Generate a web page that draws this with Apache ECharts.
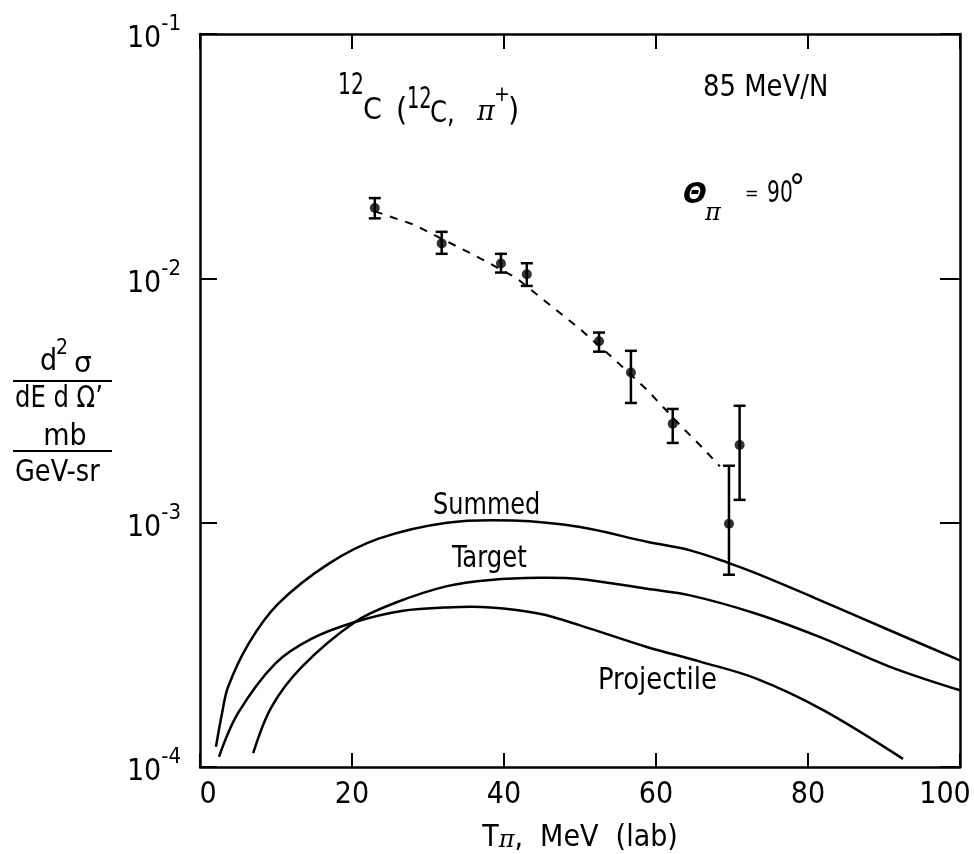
<!DOCTYPE html>
<html><head><meta charset="utf-8">
<script src="https://cdn.jsdelivr.net/npm/echarts@6/dist/echarts.min.js"></script>
<style>html,body{margin:0;padding:0;background:#fff}#c{width:974px;height:854px}</style>
</head><body><div id="c"></div>
<script>
// ---------- DATA ----------
const xTicks = [0, 20, 40, 60, 80, 100];
const yExponents = [-4, -3, -2, -1];

// measured points with error bars
const ptX  = [23.0, 31.8, 39.6, 43.0, 52.5, 56.7, 62.2, 69.6, 71.0];
const ptY  = [0.0194, 0.0139, 0.0115, 0.0104, 0.00553, 0.00412, 0.00254, 0.00099, 0.00208];
const ptLo = [0.0176, 0.0126, 0.01056, 0.00931, 0.00501, 0.00309, 0.00212, 0.000612, 0.00124];
const ptHi = [0.0213, 0.0155, 0.0126, 0.01153, 0.0060, 0.00505, 0.00292, 0.00171, 0.00301];

// dashed guide line
const dashX = [23.0, 28.1, 36.4, 41.7, 44.7, 50.0, 54.4, 58.8, 63.2, 66.3, 68.4];
const dashY = [0.0188, 0.0166, 0.0123, 0.0100, 0.0084, 0.0062, 0.0047, 0.0035, 0.0025, 0.0020, 0.0017];

// calculated curves
const summedX = [2.1, 2.9, 3.7, 6.4, 10.3, 16.9, 23.5, 32.5, 41.2, 50.0, 58.8, 64.5, 69.5, 73.2, 80.7, 90.8, 100];
const summedY = [1.21e-4, 1.66e-4, 2.13e-4, 3.2e-4, 4.66e-4, 6.78e-4, 8.6e-4, 1.0e-3, 1.02e-3, 9.6e-4, 8.35e-4, 7.7e-4, 6.85e-4, 6.2e-4, 4.95e-4, 3.62e-4, 2.73e-4];

const targetX = [7.0, 9.4, 13.4, 20.4, 25.7, 32.5, 38.2, 44.7, 50.0, 58.8, 64.5, 73.2, 81.6, 90.8, 100];
const targetY = [1.14e-4, 1.76e-4, 2.57e-4, 3.92e-4, 4.7e-4, 5.5e-4, 5.83e-4, 5.95e-4, 5.88e-4, 5.36e-4, 5.04e-4, 4.24e-4, 3.4e-4, 2.57e-4, 2.06e-4];

const projX = [2.5, 5.0, 9.9, 14.7, 20.4, 26.5, 32.5, 38.2, 44.7, 50.0, 58.8, 65.8, 73.2, 82.0, 92.5];
const projY = [1.1e-4, 1.66e-4, 2.65e-4, 3.35e-4, 3.92e-4, 4.35e-4, 4.5e-4, 4.5e-4, 4.24e-4, 3.8e-4, 3.1e-4, 2.7e-4, 2.3e-4, 1.71e-4, 1.08e-4];

// ---------- STYLE ----------
const FONT = '"Liberation Sans Narrow","DejaVu Sans Condensed","Liberation Sans",sans-serif';
const SERIF = '"DejaVu Serif","Liberation Serif",serif';
const INK = '#000';
const LW = 2.5;

function zip(a, b) { return a.map((v, i) => [v, b[i]]); }
function T(text, x, y, size, opt) {
  opt = opt || {};
  return { type: 'text', x: x, y: y, scaleX: opt.sx || 1, silent: true, z: 100,
    style: { text: text, fill: INK,
      font: (opt.style || 'normal') + ' ' + size + 'px ' + (opt.family || FONT),
      align: opt.align || 'left', verticalAlign: 'middle' } };
}
function L(x1, y1, x2, y2) {
  return { type: 'line', silent: true, z: 100, shape: { x1, y1, x2, y2 }, style: { stroke: INK, lineWidth: 2 } };
}

// smooth curve drawn through the axes' own coordinate transform
function curveSeries(name, xs, ys) {
  return {
    type: 'custom', name: name, data: zip(xs, ys), encode: { x: 0, y: 1 }, z: 3,
    renderItem: function (params, api) {
      if (params.dataIndex !== 0) return null;
      const pts = xs.map((x, i) => api.coord([x, ys[i]]));
      return { type: 'polyline', shape: { points: pts, smooth: 0.35 },
        style: { stroke: INK, lineWidth: LW, fill: null, lineJoin: 'round' } };
    }
  };
}

const chart = echarts.init(document.getElementById('c'), null, { renderer: 'canvas' });

chart.setOption({
  backgroundColor: '#fff',
  animation: false,
  grid: { left: 200, right: 14, top: 34, bottom: 87, containLabel: false, outerBoundsMode: 'none' },
  xAxis: [{
    type: 'value', position: 'bottom', min: xTicks[0], max: xTicks[xTicks.length - 1], interval: 20,
    axisLine: { show: true, onZero: false, lineStyle: { color: INK, width: LW } },
    axisTick: { show: true, inside: true, length: 14, lineStyle: { color: INK, width: 2 } },
    splitLine: { show: false },
    axisLabel: {
      show: true, margin: 13, color: INK, fontFamily: FONT, fontSize: 30, showMinLabel: true, showMaxLabel: true,
      formatter: function (v) { return v === 0 ? '{a|0}' : (v === 100 ? '{r|100}' : String(v)); },
      rich: {
        a: { fontFamily: FONT, fontSize: 30, color: INK, padding: [0, 0, 0, 16] },
        r: { fontFamily: FONT, fontSize: 30, color: INK, padding: [0, 30, 0, 0] }
      }
    },
    name: '{t|T}{p|\u03c0}{t|,  MeV  (lab)}',
    nameLocation: 'middle', nameGap: 41,
    nameTextStyle: {
      rich: {
        t: { fontFamily: FONT, fontSize: 30, lineHeight: 30, color: INK, verticalAlign: 'top' },
        p: { fontFamily: SERIF, fontStyle: 'italic', fontSize: 24, lineHeight: 26, color: INK, verticalAlign: 'bottom', padding: [14, 0, 0, 0] }
      }
    }
  }, {
    type: 'value', position: 'top', min: 0, max: 100, interval: 20,
    axisLine: { show: true, onZero: false, lineStyle: { color: INK, width: LW } },
    axisTick: { show: true, inside: true, length: 15, lineStyle: { color: INK, width: 2 } },
    axisLabel: { show: false }, splitLine: { show: false }
  }],
  yAxis: [{
    type: 'log', logBase: 10, position: 'left', min: Math.pow(10, yExponents[0]), max: Math.pow(10, yExponents[yExponents.length - 1]),
    axisLine: { show: true, onZero: false, lineStyle: { color: INK, width: LW } },
    axisTick: { show: true, inside: true, length: 17, lineStyle: { color: INK, width: 2 } },
    splitLine: { show: false }, minorTick: { show: false },
    axisLabel: {
      show: true, margin: 19, showMinLabel: true, showMaxLabel: true,
      formatter: function (v) { const e = Math.round(Math.log10(v)); return '{b|10}{s|' + String(e) + '}'; },
      rich: {
        b: { fontFamily: FONT, fontSize: 30, lineHeight: 41, color: INK, verticalAlign: 'bottom' },
        s: { fontFamily: FONT, fontSize: 22, lineHeight: 22, color: INK, verticalAlign: 'top' }
      }
    }
  }, {
    type: 'log', logBase: 10, position: 'right', min: 1e-4, max: 1e-1,
    axisLine: { show: true, onZero: false, lineStyle: { color: INK, width: LW } },
    axisTick: { show: true, inside: true, length: 20, lineStyle: { color: INK, width: 2 } },
    axisLabel: { show: false }, splitLine: { show: false }
  }],
  series: [
    curveSeries('Summed', summedX, summedY),
    curveSeries('Target', targetX, targetY),
    curveSeries('Projectile', projX, projY),
    { type: 'line', name: 'fit', data: zip(dashX, dashY), smooth: false, showSymbol: false, lineStyle: { color: INK, width: 2, type: [8, 8] }, z: 3 },
    {
      type: 'custom', name: 'errors', data: ptX.map((x, i) => [x, ptY[i], ptLo[i], ptHi[i]]),
      encode: { x: 0, y: [2, 3] }, z: 4,
      renderItem: function (params, api) {
        const x = api.value(0);
        const top = api.coord([x, api.value(3)]);
        const bot = api.coord([x, api.value(2)]);
        const w = 6;
        const st = { stroke: INK, lineWidth: 2.5 };
        return { type: 'group', children: [
          { type: 'line', shape: { x1: top[0], y1: top[1], x2: bot[0], y2: bot[1] }, style: st },
          { type: 'line', shape: { x1: top[0] - w, y1: top[1], x2: top[0] + w, y2: top[1] }, style: st },
          { type: 'line', shape: { x1: bot[0] - w, y1: bot[1], x2: bot[0] + w, y2: bot[1] }, style: st }
        ] };
      }
    },
    { type: 'scatter', name: 'data', data: zip(ptX, ptY), symbol: 'circle', symbolSize: 10, itemStyle: { color: INK }, z: 5 }
  ],
  graphic: [
    // reaction label
    T('12', 338, 86, 30, { sx: 0.75 }), T('C', 363, 111, 30),
    T('(', 396, 112, 32), T('12', 407, 100, 30, { sx: 0.72 }), T('C,', 430, 114, 30, { sx: 0.9 }),
    T('\u03c0', 477, 113, 27, { style: 'italic', family: SERIF }), T('+', 494, 96, 21), T(')', 508, 112, 32),
    T('85 MeV/N', 703, 88, 30, { sx: 0.96 }),
    T('\u0398', 683, 196, 28, { style: 'bold italic', family: '"DejaVu Sans",sans-serif' }),
    T('\u03c0', 705, 214, 24, { style: 'italic', family: SERIF }),
    T('=', 745, 194, 18),
    T('90', 767, 194, 30, { sx: 0.75 }), T('\u00b0', 789, 190, 36),
    // curve labels
    T('Summed', 433, 506, 30, { sx: 0.89 }), T('Target', 452, 559, 30, { sx: 0.9 }), T('Projectile', 598, 681, 30, { sx: 0.96 }),
    // y axis title
    T('d', 40, 362, 30), T('2', 56, 349, 21), T('\u03c3', 74, 365, 28, { family: '"DejaVu Sans",sans-serif' }),
    L(13, 381, 112, 381),
    T('dE d \u03a9\u2019', 15, 399, 30, { sx: 0.9 }),
    T('mb', 65, 437, 30, { align: 'center' }),
    L(13, 451, 112, 451),
    T('GeV-sr', 15, 473, 30, { sx: 0.95 })
  ]
});
</script>
</body></html>
